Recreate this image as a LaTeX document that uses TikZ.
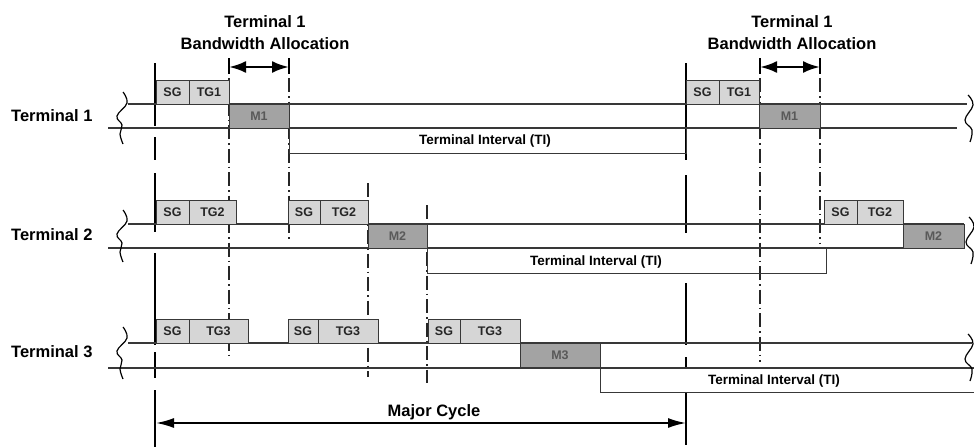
\documentclass[tikz,border=0pt]{standalone}
\usepackage{fontspec}
\setmainfont{Liberation Sans}
\usepackage{tikz}
\usetikzlibrary{arrows.meta,positioning,calc}

\definecolor{slotgray}{gray}{0.84}
\definecolor{msggray}{gray}{0.64}
\definecolor{rulegray}{gray}{0.22}

% break marks at the ends of a row
\newcommand{\brkleft}[1]{\draw[brk, shift={(#1)}] plot[smooth, tension=0.7] coordinates {(2,-25) (6,-14) (-4,-1) (1,8) (-1,17) (2,27)};}
\newcommand{\brkright}[1]{\draw[brk, shift={(#1)}] plot[smooth, tension=0.7] coordinates {(0,-23) (5,-13) (-3,2) (4,12) (2,24)};}

\begin{document}
\begin{tikzpicture}[x=1pt, y=-1pt, font=\bfseries,
   slot/.style={draw=rulegray, fill=slotgray, line width=0.8pt, minimum height=24, inner sep=0pt, outer sep=0pt,
      anchor=south west, text=black!85, font=\bfseries\fontsize{12.5}{14}\selectfont},
   msg/.style={slot, fill=msggray, anchor=north west, text=black!65},
   tibox/.style={draw=rulegray, line width=0.8pt, minimum height=25, inner sep=0pt, outer sep=0pt, anchor=north west},
   tilabel/.style={font=\bfseries\fontsize{13.5}{15}\selectfont},
   termlabel/.style={font=\bfseries\fontsize{16.5}{20}\selectfont, anchor=west, inner sep=0pt},
   heading/.style={font=\bfseries\fontsize{16.5}{22}\selectfont, align=center},
   rowline/.style={rulegray, line width=1.1pt},
   cycline/.style={black, line width=2.2pt},
   allocline/.style={black!85, line width=1.1pt, dash pattern=on 14pt off 4pt on 1.5pt off 4pt},
   alloctick/.style={black, line width=1.6pt},
   allocarrow/.style={black, line width=2.6pt, {Latex[length=17pt,width=12pt]}-{Latex[length=17pt,width=12pt]}},
   cyclearrow/.style={black, line width=1.8pt, {Latex[length=18pt,width=10pt]}-{Latex[length=18pt,width=10pt]}},
   brk/.style={black, line width=1.2pt}]
  \useasboundingbox (0,0) rectangle (974,447);

  % headings
  \node[heading] (h1) at (265,33) {Terminal 1\\Bandwidth Allocation};
  \node[heading] (h2) at (792,33) {Terminal 1\\Bandwidth Allocation};

  % major cycle boundaries
  \coordinate (mc1t) at (155,63); \coordinate (mc1b) at (155,447);
  \coordinate (mc2t) at (686,63); \coordinate (mc2b) at (686,445);
  \draw[cycline, dash pattern=on 63pt off 11pt on 23pt off 13pt on 59pt off 21pt on 92pt off 7pt on 26pt off 12pt on 57pt off 20pt] (mc1t) -- (mc1b);
  \draw[cycline, dash pattern=on 97pt off 15pt on 58pt off 50pt on 62pt off 12pt on 11pt off 25pt on 52pt off 20pt] (mc2t) -- (mc2b);

  % allocation boundaries
  \coordinate (al1t) at (229,78); \coordinate (al1b) at (229,357);
  \coordinate (ar1t) at (289,78); \coordinate (ar1b) at (289,240);
  \coordinate (al2t) at (368,183); \coordinate (al2b) at (368,377);
  \coordinate (ar2t) at (427,205); \coordinate (ar2b) at (427,383);
  \coordinate (al3t) at (760,78); \coordinate (al3b) at (760,362);
  \coordinate (ar3t) at (820,78); \coordinate (ar3b) at (820,243);
  \draw[allocline] (al1t) -- (al1b);
  \draw[allocline] (ar1t) -- (ar1b);
  \draw[allocline] (al2t) -- (al2b);
  \draw[allocline] (ar2t) -- (ar2b);
  \draw[allocline] (al3t) -- (al3b);
  \draw[allocline] (ar3t) -- (ar3b);

  % terminal 1
  \node[termlabel] (lab1) at (11,116) {Terminal 1};
  \coordinate (r1tl) at (128,104); \coordinate (r1tr) at (967,104);
  \coordinate (r1bl) at (108,128); \coordinate (r1br) at (957,128);
  \draw[rowline] (r1tl) -- (r1tr);
  \draw[rowline] (r1bl) -- (r1br);
  \node[slot, minimum width=33] (sg1) at (156,104) {SG};
  \node[slot, minimum width=40, right=0pt of sg1] (tg1) {TG1};
  \node[msg, minimum width=60] (m1) at (tg1.south east) {M1};
  \node[tibox, minimum width=397] (ti1) at (m1.south east) {};
  \node[tilabel] (til1) at (485,141) {Terminal Interval (TI)};
  \node[slot, minimum width=33] (sg1b) at (686,104) {SG};
  \node[slot, minimum width=40, right=0pt of sg1b] (tg1b) {TG1};
  \node[msg, minimum width=61] (m1b) at (tg1b.south east) {M1};

  % terminal 2
  \node[termlabel] (lab2) at (11,235) {Terminal 2};
  \coordinate (r2tl) at (128,224); \coordinate (r2tr) at (964,224);
  \coordinate (r2bl) at (108,248); \coordinate (r2br) at (964,248);
  \draw[rowline] (r2tl) -- (r2tr);
  \draw[rowline] (r2bl) -- (r2br);
  \node[slot, minimum width=33] (sg2) at (156,224) {SG};
  \node[slot, minimum width=47, right=0pt of sg2] (tg2) {TG2};
  \node[slot, minimum width=32] (sg2b) at (288,224) {SG};
  \node[slot, minimum width=48, right=0pt of sg2b] (tg2b) {TG2};
  \node[msg, minimum width=59] (m2) at (tg2b.south east) {M2};
  \node[tibox, minimum width=399] (ti2) at (m2.south east) {};
  \node[tilabel] (til2) at (596,262) {Terminal Interval (TI)};
  \node[slot, minimum width=33] (sg2c) at (824,224) {SG};
  \node[slot, minimum width=46, right=0pt of sg2c] (tg2c) {TG2};
  \node[msg, minimum width=61] (m2c) at (tg2c.south east) {M2};

  % terminal 3
  \node[termlabel] (lab3) at (11,352) {Terminal 3};
  \coordinate (r3tl) at (128,343); \coordinate (r3tr) at (972,343);
  \coordinate (r3bl) at (108,368); \coordinate (r3br) at (974,368);
  \draw[rowline] (r3tl) -- (r3tr);
  \draw[rowline] (r3bl) -- (r3br);
  \node[slot, minimum width=33] (sg3) at (156,343) {SG};
  \node[slot, minimum width=59, right=0pt of sg3] (tg3) {TG3};
  \node[slot, minimum width=30] (sg3b) at (288,343) {SG};
  \node[slot, minimum width=60, right=0pt of sg3b] (tg3b) {TG3};
  \node[slot, minimum width=32] (sg3c) at (428,343) {SG};
  \node[slot, minimum width=60, right=0pt of sg3c] (tg3c) {TG3};
  \node[msg, minimum width=80] (m3) at (tg3c.south east) {M3};
  \node[tibox, minimum width=380] (ti3) at (m3.south east) {};
  \node[tilabel] (til3) at (774,381) {Terminal Interval (TI)};

  % row breaks
  \coordinate (bl1) at (121,117); \coordinate (br1) at (968,118);
  \coordinate (bl2) at (121,235); \coordinate (br2) at (969,240);
  \coordinate (bl3) at (121,352); \coordinate (br3) at (968,357);
  \brkleft{bl1} \brkleft{bl2} \brkleft{bl3}
  \brkright{br1} \brkright{br2} \brkright{br3}

  % bandwidth allocation arrows
  \coordinate (aw1) at (229,67); \coordinate (ae1) at (289,67);
  \coordinate (aw2) at (760,67); \coordinate (ae2) at (820,67);
  \draw[allocarrow] (aw1) -- (ae1);
  \draw[allocarrow] (aw2) -- (ae2);
  \draw[alloctick] ($(aw1)+(0,-9)$) -- ($(aw1)+(0,7)$);
  \draw[alloctick] ($(ae1)+(0,-9)$) -- ($(ae1)+(0,7)$);
  \draw[alloctick] ($(aw2)+(0,-9)$) -- ($(aw2)+(0,7)$);
  \draw[alloctick] ($(ae2)+(0,-9)$) -- ($(ae2)+(0,7)$);

  % major cycle
  \coordinate (mcw) at (156,423); \coordinate (mce) at (686,423);
  \draw[cyclearrow] (mcw) -- (mce);
  \node[heading] (mclab) at (434,412.5) {Major Cycle};
\end{tikzpicture}
\end{document}
